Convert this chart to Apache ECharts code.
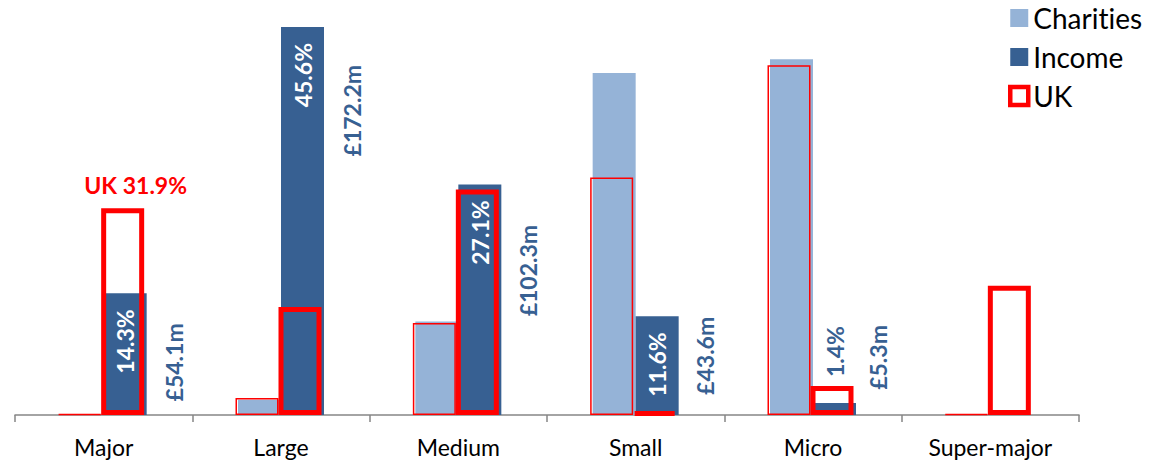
<!DOCTYPE html>
<html><head><meta charset="utf-8">
<script src="https://cdn.jsdelivr.net/npm/echarts@6/dist/echarts.min.js"></script>
<style>html,body{margin:0;padding:0;background:#fff}#c{width:1160px;height:462px}
#c text{font-variant-ligatures:none;font-feature-settings:"liga" 0,"clig" 0;}</style>
</head><body><div id="c"></div>
<script>
// ---- data ----
const categories = ['Major', 'Large', 'Medium', 'Small', 'Micro', 'Super-major'];
const charities = [0.05, 1.8, 11.0, 40.2, 41.8, 0];
const income = [14.3, 45.6, 27.1, 11.6, 1.4, null];
const ukCharities = [0.1, 2.0, 10.8, 27.9, 41.1, 0.1];
const ukIncome = [24.3, 12.7, 26.5, 0.35, 3.4, 15.2];
const incomeAmounts = ['£54.1m', '£172.2m', '£102.3m', '£43.6m', '£5.3m', ''];
const ukNote = 'UK 31.9%';

// ---- styles ----
const LIGHT = '#95B3D7', DARK = '#376092', RED = '#FF0000';
const FONT = 'Lato';
// label placement (screen px) for amount labels: [dx from category centre, dy from bar top]
const amountPlace = [[70, 30], [70.5, 38], [70, 40.5], [69.5, 0.5], [65, -78], [0, 0]];

const incomeData = income.map((v, i) => {
  if (v == null) return null;
  const small = v < 5;
  return {
    value: v,
    label: small ? {
      position: 'top', distance: 26, color: DARK, align: 'left'
    } : {
      position: 'insideTop', distance: 16, color: '#fff', align: 'right'
    }
  };
});

const ukIncomeData = ukIncome.map((v, i) => i === 0 ? {
  value: v,
  label: { show: true, position: 'top', distance: 12, offset: [13, 0], formatter: ukNote,
    color: RED, fontWeight: 'bold', fontSize: 23, fontFamily: FONT }
} : v);

const amountData = income.map((v, i) => v == null ? null : {
  value: v,
  label: { offset: [-amountPlace[i][1], amountPlace[i][0]], formatter: incomeAmounts[i] }
});

const GRID = { top: 23.6, bottom: 47 };
const option = {
  animation: false,
  backgroundColor: '#fff',
  textStyle: { fontFamily: FONT },
  legend: {
    orient: 'vertical', left: 1003, top: -1, itemWidth: 18, itemHeight: 18, itemGap: 11,
    icon: 'rect',
    textStyle: { fontSize: 28, color: '#000', fontFamily: FONT },
    data: [
      { name: 'Charities' },
      { name: 'Income' },
      { name: 'UK', itemStyle: { color: '#fff', borderColor: RED, borderWidth: 4.5 } }
    ]
  },
  grid: [
    Object.assign({ left: 15, right: 81 }, GRID),
    Object.assign({ left: 12.5, right: 83.5 }, GRID)
  ],
  xAxis: [
    { type: 'category', gridIndex: 0, data: categories,
      axisLine: { lineStyle: { color: '#868686', width: 1.5 } },
      axisTick: { show: true, length: 7, lineStyle: { color: '#868686', width: 1.5 } },
      axisLabel: { color: '#000', fontSize: 23, fontFamily: FONT, margin: 20, interval: 0 } },
    { type: 'category', gridIndex: 1, data: categories, show: false }
  ],
  yAxis: [
    { type: 'value', gridIndex: 0, min: 0, max: 46, show: false, splitLine: { show: false } },
    { type: 'value', gridIndex: 1, min: 0, max: 46, show: false, splitLine: { show: false } }
  ],
  series: [
    { name: 'Charities', type: 'bar', xAxisIndex: 0, yAxisIndex: 0, data: charities,
      barWidth: 43, barGap: '0%', itemStyle: { color: LIGHT } },
    { name: 'Income', type: 'bar', xAxisIndex: 0, yAxisIndex: 0, data: incomeData,
      barWidth: 43, barGap: '0%', itemStyle: { color: DARK },
      label: { show: true, rotate: 90, verticalAlign: 'middle', fontSize: 23, fontWeight: 'bold',
        fontFamily: FONT, formatter: p => p.value.toFixed(1) + '%' } },
    { name: 'UK charities', type: 'bar', xAxisIndex: 1, yAxisIndex: 1, data: ukCharities,
      barWidth: 43, barGap: '0%', z: 3, clip: false,
      itemStyle: { color: 'rgba(0,0,0,0)', borderColor: RED, borderWidth: 1.5 } },
    { name: 'UK', type: 'bar', xAxisIndex: 1, yAxisIndex: 1, data: ukIncomeData,
      barWidth: 43, barGap: '0%', z: 4, clip: false,
      itemStyle: { color: 'rgba(0,0,0,0)', borderColor: RED, borderWidth: 5 } },
    { name: 'amounts', type: 'scatter', xAxisIndex: 0, yAxisIndex: 0, data: amountData,
      symbolSize: 1, itemStyle: { color: 'rgba(0,0,0,0)', opacity: 1 }, z: 5, silent: true,
      label: { show: true, position: 'inside', rotate: 90, align: 'right', verticalAlign: 'middle',
        color: DARK, fontSize: 23, fontWeight: 'bold', fontFamily: FONT } }
  ]
};
const chart = echarts.init(document.getElementById('c'), null, { renderer: 'svg' });
chart.setOption(option);
</script>
</body></html>
